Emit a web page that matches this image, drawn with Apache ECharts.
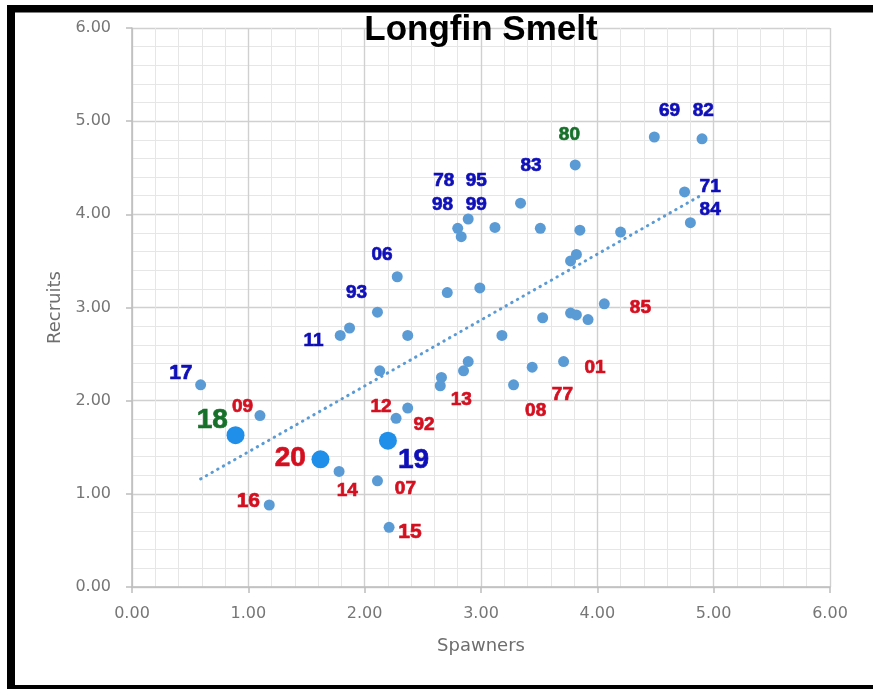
<!DOCTYPE html>
<html>
<head>
<meta charset="utf-8">
<script src="https://cdn.jsdelivr.net/npm/echarts@6/dist/echarts.min.js"></script>
<style>
html,body{margin:0;padding:0;background:#fff;}
#chart{width:873px;height:689px;}
</style>
</head>
<body>
<div id="chart"></div>
<script>
// Historic years: spawners (x) and recruits (y)
const spawners = [4.49,4.90,3.81,4.75,3.34,4.80,2.89,2.80,2.83,3.12,3.51,3.85,4.20,3.82,3.77,2.28,2.71,2.99,4.06,2.11,3.53,3.77,3.82,3.92,1.79,1.87,2.37,3.18,2.89,2.85,2.13,2.66,2.65,3.44,3.71,3.28,0.59,2.37,2.27,1.10,1.78,2.11,1.18,2.21];
const recruits = [4.83,4.81,4.53,4.24,4.12,3.91,3.95,3.85,3.76,3.86,3.85,3.83,3.81,3.57,3.50,3.33,3.16,3.21,3.04,2.95,2.89,2.94,2.92,2.87,2.70,2.78,2.70,2.70,2.42,2.32,2.32,2.25,2.16,2.36,2.42,2.17,2.17,1.92,1.81,1.84,1.24,1.14,0.88,0.64];
// Recent years (2018-2020), drawn larger
const recentSpawners = [0.89,2.20,1.62];
const recentRecruits = [1.63,1.57,1.37];
// Trend line end points
const trendX = [0.59,4.90];
const trendY = [1.16,4.21];
// Year labels
const labelNames = ['69','82','80','83','78','95','98','99','71','84','06','93','11','85','17','01','09','12','13','77','08','92','18','20','19','14','07','16','15'];
const labelX = [4.62,4.91,3.76,3.43,2.68,2.96,2.67,2.96,4.97,4.97,2.15,1.93,1.56,4.37,0.42,3.98,0.95,2.14,2.83,3.70,3.47,2.51,0.69,1.36,2.42,1.85,2.35,1.00,2.39];
const labelY = [5.11,5.11,4.85,4.52,4.36,4.36,4.10,4.10,4.30,4.05,3.57,3.16,2.64,3.00,2.29,2.35,1.93,1.93,2.01,2.06,1.89,1.74,1.79,1.38,1.36,1.03,1.05,0.92,0.59];
const labelKind = ['b','b','g','b','b','b','b','b','b','b','b','b','b','r','B','r','r','r','r','r','r','r','GG','RR','BB','r','r','R','R'];
const axisTicks = [0,1,2,3,4,5,6];

const BLUE = '#0f0fb8', RED = '#d41020', GREEN = '#17702a';
const kindStyle = {
  b:{color:BLUE,fontSize:19}, r:{color:RED,fontSize:19}, g:{color:GREEN,fontSize:19},
  B:{color:BLUE,fontSize:21}, R:{color:RED,fontSize:21},
  BB:{color:BLUE,fontSize:28}, RR:{color:RED,fontSize:28}, GG:{color:GREEN,fontSize:28}
};

const chart = echarts.init(document.getElementById('chart'), null, {renderer:'canvas'});

function axisCommon(){
  return {
    type:'value', min:axisTicks[0], max:axisTicks[axisTicks.length-1], interval:1,
    axisLine:{show:true, lineStyle:{color:'#bdbdbd', width:1.5}},
    axisTick:{show:true, length:6, lineStyle:{color:'#bdbdbd', width:1.5}},
    axisLabel:{color:'#767676', fontFamily:'DejaVu Sans', fontSize:16, formatter:v=>v.toFixed(2)},
    splitLine:{show:true, lineStyle:{color:'#d0d0d0', width:1.4}},
    minorTick:{show:false, splitNumber:5},
    minorSplitLine:{show:true, lineStyle:{color:'#e6e6e6', width:1}},
    nameTextStyle:{color:'#6e6e6e', fontFamily:'DejaVu Sans', fontSize:18}
  };
}

const xAxis = Object.assign(axisCommon(), {name:'Spawners', nameLocation:'middle', nameGap:50});
xAxis.axisLabel.margin = 19;
const yAxis = Object.assign(axisCommon(), {name:'Recruits', nameLocation:'middle', nameGap:68});
yAxis.axisLabel.margin = 21;

const labelData = labelNames.map((n,i)=>{
  const s = kindStyle[labelKind[i]];
  return {name:n, value:[labelX[i],labelY[i]],
    label:{show:true, position:'inside', formatter:'{b}', color:s.color, fontSize:s.fontSize,
      fontWeight:'bold', fontFamily:'Liberation Sans', textBorderColor:s.color, textBorderWidth:0.7}};
});

chart.setOption({
  animation:false,
  backgroundColor:'#ffffff',
  grid:{left:132, right:43, top:28, bottom:102, containLabel:false},
  xAxis: xAxis,
  yAxis: yAxis,
  graphic:[
    {type:'rect', shape:{x:7,y:5,width:8,height:684}, style:{fill:'#000'}, z:100},
    {type:'rect', shape:{x:7,y:5,width:866,height:7.5}, style:{fill:'#000'}, z:100},
    {type:'rect', shape:{x:7,y:685,width:866,height:4}, style:{fill:'#000'}, z:100},
    {type:'text', style:{text:'Longfin Smelt', x:481, y:30, align:'center', verticalAlign:'middle',
      font:'bold 35px "Liberation Sans"', fill:'#000'}, z:100}
  ],
  series:[
    {type:'line', data:trendX.map((x,i)=>[x,trendY[i]]), symbol:'none', silent:true,
      lineStyle:{color:'#5b9bd5', width:3, type:[0.5,6], cap:'round'}, z:2},
    {type:'scatter', data:spawners.map((x,i)=>[x,recruits[i]]), symbolSize:11,
      itemStyle:{color:'#5b9bd5', opacity:1}, z:3},
    {type:'scatter', data:recentSpawners.map((x,i)=>[x,recentRecruits[i]]), symbolSize:18,
      itemStyle:{color:'#1f8fea', opacity:1}, z:4},
    {type:'scatter', data:labelData, symbolSize:0, silent:true, z:5, itemStyle:{opacity:1},
      emphasis:{disabled:true}}
  ]
});
</script>
</body>
</html>
